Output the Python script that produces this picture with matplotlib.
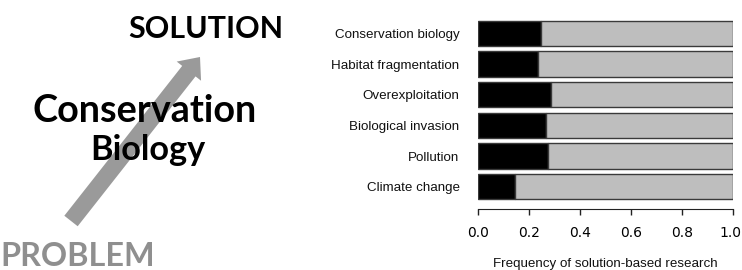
import matplotlib
matplotlib.use("Agg")
import matplotlib.pyplot as plt
from matplotlib.patches import FancyArrow

categories = ["Conservation biology", "Habitat fragmentation", "Overexploitation",
              "Biological invasion", "Pollution", "Climate change"]
solution_freq = [0.245, 0.234, 0.284, 0.264, 0.273, 0.145]
xticks = [0.0, 0.2, 0.4, 0.6, 0.8, 1.0]
xtick_labels = ["0.0", "0.2", "0.4", "0.6", "0.8", "1.0"]
xlabel = "Frequency of solution-based research"

W, H = 742, 270
fig = plt.figure(figsize=(W / 100, H / 100), dpi=100)

# ---- bar chart (R style) ----
ax = fig.add_axes([478.3 / W, 1 - 202 / H, 255 / W, (202 - 18.2) / H])
ypos = list(range(len(categories)))
rest = [1 - v for v in solution_freq]
edge = "#3a3a3a"
ax.barh(ypos, solution_freq, height=0.83, color="black", edgecolor=edge, linewidth=1.0)
ax.barh(ypos, rest, left=solution_freq, height=0.83, color="#bebebe", edgecolor=edge, linewidth=1.0)
ax.set_ylim(len(categories) - 0.5, -0.5)
ax.set_xlim(0, 1)
ax.set_yticks(ypos)
ax.set_yticklabels(categories, fontsize=9.6, family="Liberation Sans", color="#111111")
ax.tick_params(axis="y", length=0, pad=13.5)

lab_font = dict(fontsize=9.4, family="Liberation Sans", color="#111111")
ax.set_xticks(xticks)
ax.set_xticklabels(xtick_labels[:-1] + [""], **lab_font)
ax.tick_params(axis="x", which="major", length=4.3, width=1.0, pad=8, color="#222222")
# the last label is nudged slightly inward (as a tickless minor tick) so it stays on the canvas
ax.set_xticks([xticks[-1] - 0.01], minor=True)
ax.set_xticklabels([xtick_labels[-1]], minor=True, **lab_font)
ax.tick_params(axis="x", which="minor", length=4.3, width=0, pad=8)

for s in ["top", "right", "left"]:
    ax.spines[s].set_visible(False)
ax.spines["bottom"].set_position(("outward", 5))
ax.spines["bottom"].set_color("#222222")
ax.spines["bottom"].set_bounds(0, 1)
ax.set_xlabel(xlabel, fontsize=9.6, family="Liberation Sans", color="#111111", labelpad=13)

# ---- left diagram ----
ov = fig.add_axes([0, 0, 1, 1], zorder=-1)
ov.set_xlim(0, W)
ov.set_ylim(H, 0)
ov.axis("off")

arrow = FancyArrow(71, 221, 129, -164, width=17, head_width=31, head_length=18,
                   length_includes_head=True, color="#9a9a9a", linewidth=0)
ov.add_patch(arrow)

fig.canvas.draw()
renderer = fig.canvas.get_renderer()


def fit_text(x, y, s, target_w, color, size0=20):
    t = ov.text(x, y, s, ha="center", va="baseline", fontsize=size0,
                family="Lato", weight="bold", color=color, zorder=5)
    for _ in range(3):
        w = t.get_window_extent(renderer).width
        t.set_fontsize(t.get_fontsize() * target_w / w)
    return t


fit_text(205.5, 38, "SOLUTION", 155, "black")
fit_text(145, 122.5, "Conservation", 224, "black")
fit_text(147.5, 160, "Biology", 115, "black")
fit_text(78, 266, "PROBLEM", 155, "#8f8f8f")

fig.savefig("out.png", dpi=100)
